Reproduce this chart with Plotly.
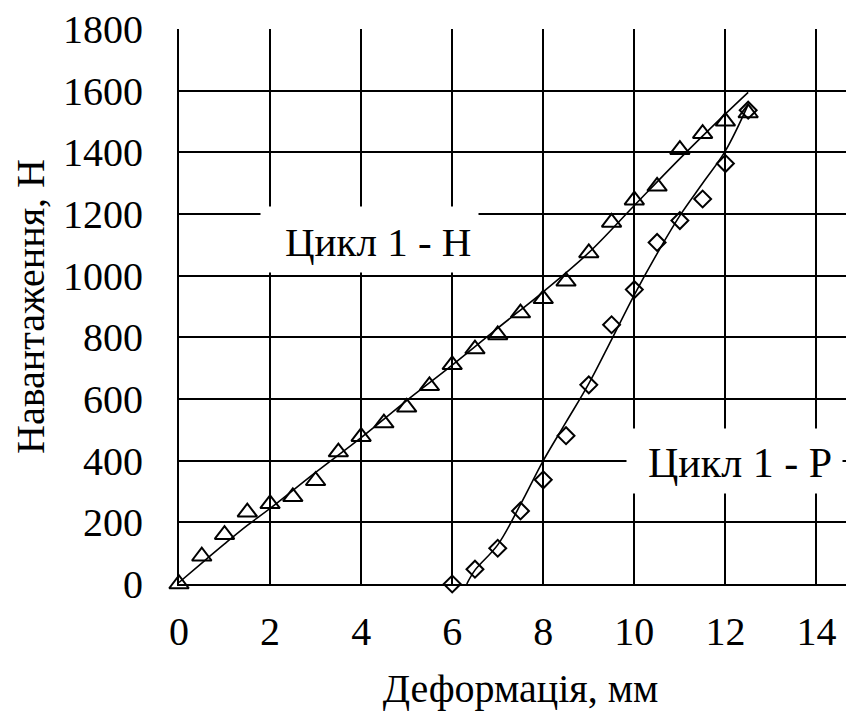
import plotly.graph_objects as go

# Measured points
load_x = [0, 0.5, 1, 1.5, 2, 2.5, 3, 3.5, 4, 4.5, 5, 5.5, 6, 6.5, 7, 7.5, 8, 8.5, 9, 9.5, 10, 10.5, 11, 11.5, 12, 12.5]
load_y = [0, 90, 160, 233, 260, 283, 335, 428, 478, 522, 573, 643, 711, 762, 808, 879, 925, 982, 1074, 1173, 1245, 1290, 1409, 1461, 1501, 1528]

unload_x = [6, 6.5, 7, 7.5, 8, 8.5, 9, 9.5, 10, 10.5, 11, 11.5, 12, 12.5]
unload_y = [0, 48, 116, 237, 338, 481, 646, 841, 955, 1108, 1179, 1249, 1364, 1537]

# Trend lines
load_trend_x = [0, 0.5, 1, 1.5, 2, 3, 4, 5, 6, 7, 8, 9, 10, 11, 12, 12.5]
load_trend_y = [5, 68, 130, 190, 245, 362, 475, 595, 710, 830, 948, 1075, 1228, 1380, 1525, 1595]

unload_trend_x = [6.32, 6.5, 7, 7.5, 8, 8.5, 9, 9.5, 10, 10.5, 11, 11.5, 12, 12.5]
unload_trend_y = [0, 45, 127, 258, 400, 525, 650, 793, 938, 1072, 1195, 1300, 1405, 1555]

x_ticks = [0, 2, 4, 6, 8, 10, 12, 14]
y_ticks = [0, 200, 400, 600, 800, 1000, 1200, 1400, 1600, 1800]

label_n = "Цикл 1 - Н"
label_p = "Цикл 1 - Р"

FONT = "Times New Roman, Liberation Serif, DejaVu Serif, serif"

fig = go.Figure()
fig.add_trace(go.Scatter(x=load_trend_x, y=load_trend_y, mode="lines",
                         line=dict(color="black", width=1.6, shape="spline"),
                         showlegend=False, hoverinfo="skip"))
fig.add_trace(go.Scatter(x=unload_trend_x, y=unload_trend_y, mode="lines",
                         line=dict(color="black", width=1.6, shape="spline"),
                         showlegend=False, hoverinfo="skip"))
fig.add_trace(go.Scatter(x=load_x, y=load_y, mode="markers",
                         marker=dict(symbol="triangle-up-open", size=17,
                                     color="black", line=dict(color="black", width=2)),
                         showlegend=False, cliponaxis=False))
fig.add_trace(go.Scatter(x=unload_x, y=unload_y, mode="markers",
                         marker=dict(symbol="diamond-open", size=13,
                                     color="black", line=dict(color="black", width=2)),
                         showlegend=False, cliponaxis=False))

# white label boxes
fig.add_annotation(x=4.19, y=1117, xref="x", yref="y", text=" ",
                   showarrow=False, bgcolor="white", width=215, height=63)
fig.add_annotation(x=12.19, y=399, xref="x", yref="y", text=" ",
                   showarrow=False, bgcolor="white", width=213, height=62)
# label texts
fig.add_annotation(x=4.38, y=1110, xref="x", yref="y", text=label_n,
                   showarrow=False, font=dict(family=FONT, size=41, color="black"))
fig.add_annotation(x=12.33, y=393, xref="x", yref="y", text=label_p,
                   showarrow=False, font=dict(family=FONT, size=42, color="black"))

fig.update_layout(
    width=854, height=711,
    margin=dict(l=171, r=0, t=21, b=135),
    paper_bgcolor="white", plot_bgcolor="white",
    font=dict(family=FONT, size=40, color="black"),
    xaxis=dict(range=[0, 15.0], tickvals=x_ticks, ticktext=[str(v) for v in x_ticks],
               showgrid=True, gridcolor="black", gridwidth=2,
               showline=True, linecolor="black", linewidth=2,
               zeroline=False, ticks="", ticklabelstandoff=11, automargin=False,
               title=dict(text="Деформація, мм", font=dict(family=FONT, size=40), standoff=21)),
    yaxis=dict(range=[0, 1800.5], tickvals=y_ticks, ticktext=[str(v) for v in y_ticks],
               showgrid=True, gridcolor="black", gridwidth=2,
               showline=True, linecolor="black", linewidth=2,
               zeroline=False, ticks="", ticklabelstandoff=26, automargin=False,
               ticklabeloverflow="allow",
               title=dict(text="Навантаження, Н", font=dict(family=FONT, size=40), standoff=9)),
)

fig.write_html("out.html")
